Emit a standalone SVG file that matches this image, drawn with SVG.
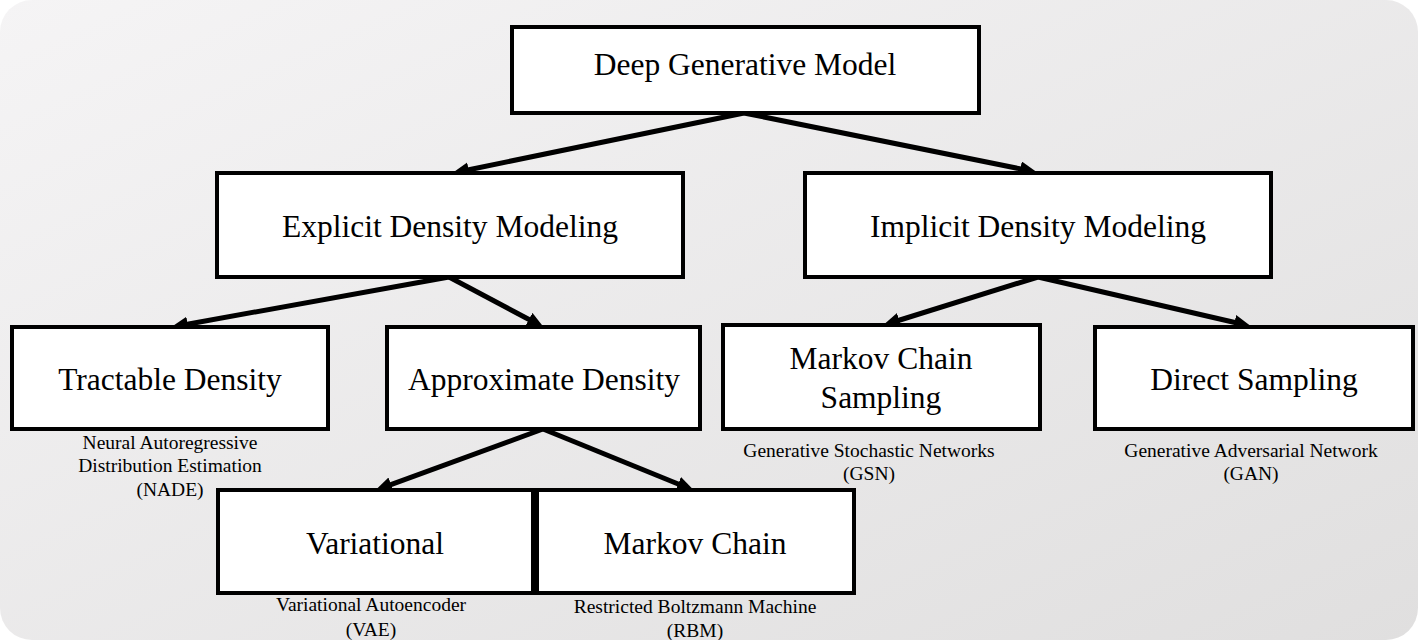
<svg xmlns="http://www.w3.org/2000/svg" width="1418" height="640" viewBox="0 0 1418 640">
<defs>
<linearGradient id="bg" x1="0" y1="0" x2="1" y2="1">
<stop offset="0" stop-color="#f5f4f5"/>
<stop offset="1" stop-color="#e0dfdf"/>
</linearGradient>
<marker id="ah" markerUnits="userSpaceOnUse" markerWidth="20" markerHeight="16" refX="6" refY="7.5" orient="auto">
<path d="M0,0 L17,7.5 L0,15 z" fill="#000"/>
</marker>
<style>
.box{fill:#fff;stroke:#000;stroke-width:4}
.lbl{font-family:"Liberation Serif","Times New Roman",serif;font-size:31.5px;fill:#000;text-anchor:middle}
.sub{font-family:"Liberation Serif","Times New Roman",serif;font-size:19.5px;fill:#000;text-anchor:middle}
.con{stroke:#000;stroke-width:5;fill:none;marker-end:url(#ah)}
</style>
</defs>
<rect x="0" y="0" width="1418" height="640" rx="32" ry="32" fill="url(#bg)"/>
<g id="connectors">
<line class="con" x1="744" y1="113" x2="462.8" y2="171"/>
<line class="con" x1="744" y1="113" x2="1026.2" y2="170"/>
<line class="con" x1="449" y1="277" x2="181.8" y2="325.2"/>
<line class="con" x1="449" y1="277" x2="534.2" y2="322.3"/>
<line class="con" x1="1038" y1="277" x2="893.5" y2="322"/>
<line class="con" x1="1038" y1="277" x2="1240.3" y2="323.7"/>
<line class="con" x1="543" y1="429" x2="385.4" y2="486.6"/>
<line class="con" x1="543" y1="429" x2="683.7" y2="486.2"/>
</g>
<g id="deep-generative-model">
<rect class="box" x="512" y="27" width="467" height="86"/>
<text class="lbl" x="745" y="75">Deep Generative Model</text>
</g>
<g id="explicit-density">
<rect class="box" x="217" y="173" width="466" height="104"/>
<text class="lbl" x="450" y="237">Explicit Density Modeling</text>
</g>
<g id="implicit-density">
<rect class="box" x="805" y="173" width="466" height="104"/>
<text class="lbl" x="1038" y="237">Implicit Density Modeling</text>
</g>
<g id="tractable-density">
<rect class="box" x="12" y="327" width="316" height="102"/>
<text class="lbl" x="170" y="390">Tractable Density</text>
<text class="sub" x="170" y="449">Neural Autoregressive</text>
<text class="sub" x="170" y="472">Distribution Estimation</text>
<text class="sub" x="170" y="496">(NADE)</text>
</g>
<g id="approximate-density">
<rect class="box" x="387" y="327" width="313" height="102"/>
<text class="lbl" x="544" y="390">Approximate Density</text>
</g>
<g id="markov-chain-sampling">
<rect class="box" x="723" y="325" width="317" height="104"/>
<text class="lbl" x="881" y="369">Markov Chain</text>
<text class="lbl" x="881" y="408">Sampling</text>
<text class="sub" x="869" y="457">Generative Stochastic Networks</text>
<text class="sub" x="869" y="480">(GSN)</text>
</g>
<g id="direct-sampling">
<rect class="box" x="1095" y="327" width="318" height="102"/>
<text class="lbl" x="1254" y="390">Direct Sampling</text>
<text class="sub" x="1251" y="457">Generative Adversarial Network</text>
<text class="sub" x="1251" y="480">(GAN)</text>
</g>
<g id="variational">
<rect class="box" x="218" y="490" width="315" height="103"/>
<text class="lbl" x="375" y="554">Variational</text>
<text class="sub" x="371" y="611">Variational Autoencoder</text>
<text class="sub" x="371" y="636">(VAE)</text>
</g>
<g id="markov-chain">
<rect class="box" x="537" y="490" width="317" height="103"/>
<text class="lbl" x="695" y="554">Markov Chain</text>
<text class="sub" x="695" y="613">Restricted Boltzmann Machine</text>
<text class="sub" x="695" y="637">(RBM)</text>
</g>
</svg>
